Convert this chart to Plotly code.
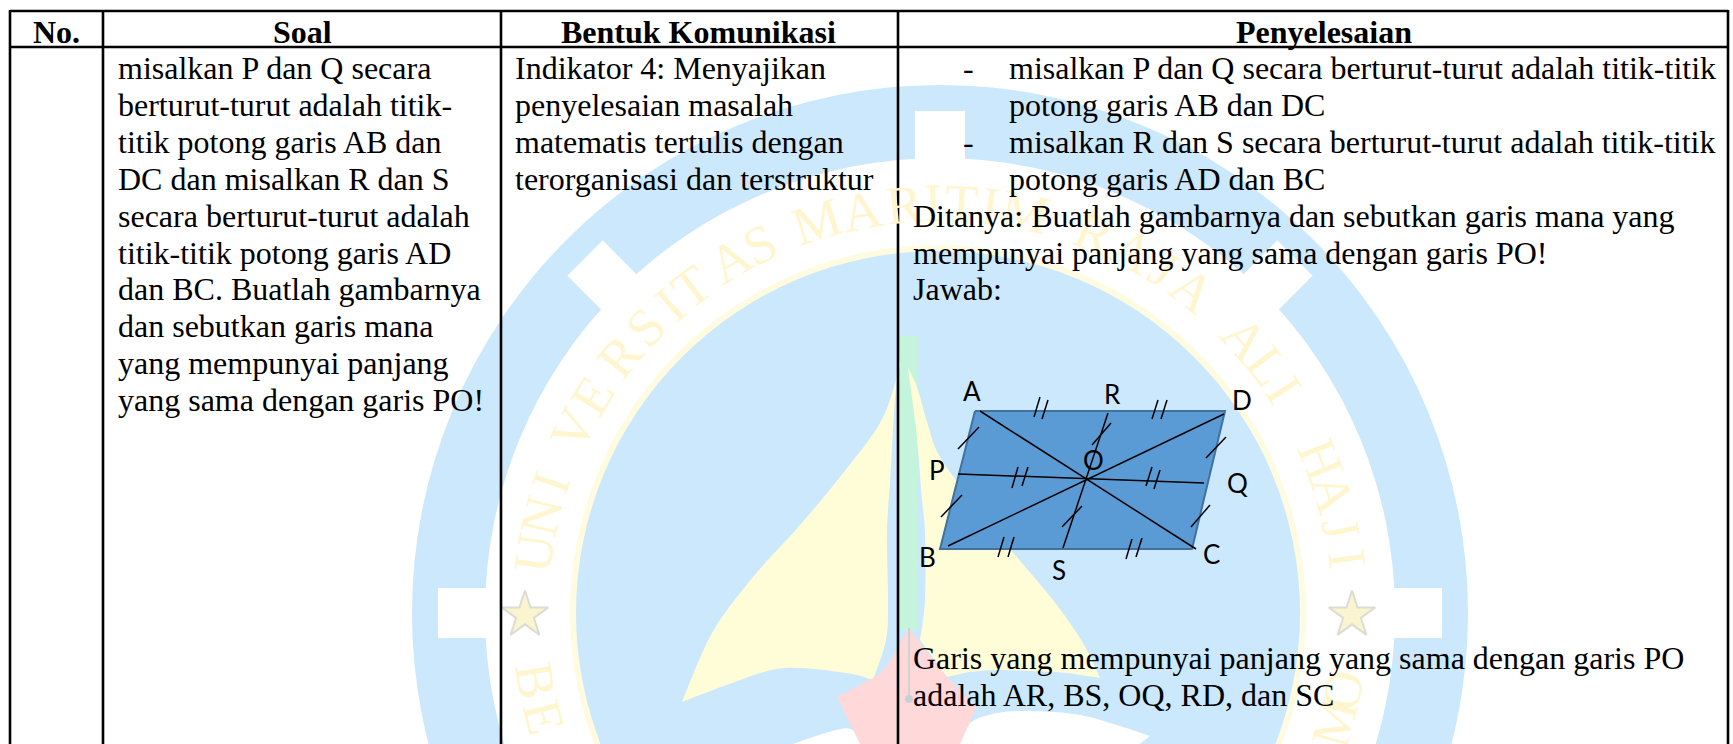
import math
import plotly.graph_objects as go

# ---- table contents
HEADERS = ["No.", "Soal", "Bentuk Komunikasi", "Penyelesaian"]
HEADER_X = [56, 302, 698, 1324]
SOAL_LINES = ["misalkan P dan Q secara", "berturut-turut adalah titik-", "titik potong garis AB dan",
              "DC dan misalkan R dan S", "secara berturut-turut adalah", "titik-titik potong garis AD",
              "dan BC. Buatlah gambarnya", "dan sebutkan garis mana", "yang mempunyai panjang",
              "yang sama dengan garis PO!"]
BENTUK_LINES = ["Indikator 4: Menyajikan", "penyelesaian masalah", "matematis tertulis dengan",
                "terorganisasi dan terstruktur"]
BULLET_LINES = ["misalkan P dan Q secara berturut-turut adalah titik-titik", "potong garis AB dan DC",
                "misalkan R dan S secara berturut-turut adalah titik-titik", "potong garis AD dan BC"]
PLAIN_LINES = ["Ditanya: Buatlah gambarnya dan sebutkan garis mana yang",
               "mempunyai panjang yang sama dengan garis PO!", "Jawab:"]
ANSWER_LINES = ["Garis yang mempunyai panjang yang sama dengan garis PO",
                "adalah AR, BS, OQ, RD, dan SC"]
LINE_Y0, LINE_STEP = 68, 36.9
COL_LINES_X = [10, 103, 501, 898, 1728]

# ---- figure: parallelogram
PARA_X = [975, 1225, 1192, 940, 975]
PARA_Y = [411, 411, 549, 549, 411]
SEGMENTS = [  # x0, y0, x1, y1
    (980, 411, 1196, 549), (948, 546, 1224, 414), (958, 474, 1204, 483), (1108, 413, 1063, 548),
    (1034, 417, 1040, 397), (1042, 419, 1048, 400), (1152, 419, 1158, 400), (1161, 419, 1167, 400),
    (998, 557, 1004, 537), (1008, 557, 1014, 537), (1126, 559, 1132, 539), (1136, 557, 1142, 538),
    (1012, 488, 1018, 467), (1022, 486, 1028, 467), (1146, 486, 1152, 467), (1154, 489, 1160, 470),
    (958, 449, 979, 427), (941, 517, 962, 495), (1206, 458, 1226, 437), (1191, 527, 1210, 505),
    (1092, 445, 1111, 423), (1062, 527, 1082, 506),
]
PT_NAMES = ["A", "R", "D", "O", "P", "Q", "B", "S", "C"]
PT_X = [972, 1112, 1242, 1093, 937, 1237, 927, 1059, 1211]
PT_Y = [391, 394, 400, 460, 470, 483, 557, 570, 554]

# ---- watermark (each shape is a list of smooth runs that meet at corners)
CX, CY = 938, 613
RING_CX = 940
R_OUTER, R_WHITE, R_RIM, R_DISC = 528, 455, 368, 362
TOOTH_ANGLES = [0, 45, 90, 135, 180]
LEFT_SAIL = [
    [(907, 337), (897, 377), (880, 423), (840, 477), (800, 525), (753, 577), (712, 633), (682, 702)],
    [(682, 702), (735, 682), (784, 668), (846, 673), (873, 680)],
    [(873, 680), (886, 640), (888, 600), (887, 533), (890, 483), (897, 377), (907, 337)],
]
RIGHT_SAIL = [
    [(908, 368), (917, 387), (928, 425), (940, 457), (975, 505), (1011, 550), (1053, 600), (1083, 643), (1100, 678)],
    [(1100, 678), (1067, 673), (1030, 671), (997, 670), (970, 672), (947, 677)],
    [(947, 677), (920, 640)],
    [(920, 640), (925, 600), (925, 533), (922, 500), (918, 450), (915, 420), (908, 368)],
]
MAST = [[(900, 336), (917, 336)], [(917, 336), (918, 630)], [(918, 630), (900, 630)], [(900, 630), (900, 336)]]
PINK = [[(909, 628), (885, 668), (869, 680), (837, 697)], [(837, 697), (860, 744)], [(860, 744), (960, 744)],
        [(960, 744), (977, 707)], [(977, 707), (947, 677), (920, 643), (909, 628)]]
CLOUD_R = [[(960, 744), (970, 723), (997, 713), (1030, 711), (1080, 715), (1123, 727), (1150, 736)],
           [(1150, 736), (1140, 744)], [(1140, 744), (960, 744)]]
CLOUD_L = [[(793, 744), (829, 732), (851, 729), (862, 744)], [(862, 744), (793, 744)]]
STARS_X = [525, 1352]
STARS_Y = [615, 615]
ARC_TOP = "UNIVERSITAS MARITIM RAJA ALI HAJI"
ARC_TOP_ANGLES = [8.4, 13.7, 18.6, 26.6, 32, 38.8, 44.2, 48.8, 52.7, 59.3, 63.9, 68, 72.5, 79, 85, 89, 93, 97,
                  102, 106, 112, 118, 123, 128, 133, 138, 143, 147, 152, 158, 163, 168, 172.5]
ARC_BOTTOM = "BEOM"
ARC_BOTTOM_ANGLES = [-9.4, -14.7, 190.8, 195.6]
R_TEXT = 410

BLUE, YELLOW, PALE = "#cbe8fd", "#fffdd8", "#fff6cf"

fig = go.Figure()
shapes = []


def run_path(run):
    # Catmull-Rom through the run's points, written as cubic Beziers
    out = ""
    n = len(run)
    for i in range(n - 1):
        p0 = run[max(i - 1, 0)]
        p1, p2 = run[i], run[i + 1]
        p3 = run[min(i + 2, n - 1)]
        c1 = (p1[0] + (p2[0] - p0[0]) / 6, p1[1] + (p2[1] - p0[1]) / 6)
        c2 = (p2[0] - (p3[0] - p1[0]) / 6, p2[1] - (p3[1] - p1[1]) / 6)
        out += f" C {c1[0]:.1f},{c1[1]:.1f} {c2[0]:.1f},{c2[1]:.1f} {p2[0]},{p2[1]}"
    return out


def smooth(runs, color):
    path = f"M {runs[0][0][0]},{runs[0][0][1]}" + "".join(run_path(r) for r in runs) + " Z"
    shapes.append(dict(type="path", path=path, fillcolor=color, line_width=0, layer="below"))


def poly(points, color):
    path = "M " + " L ".join(f"{x},{y}" for x, y in points) + " Z"
    shapes.append(dict(type="path", path=path, fillcolor=color, line_width=0, layer="below"))


def circle(cx, r, color):
    shapes.append(dict(type="circle", x0=cx - r, x1=cx + r, y0=CY - r, y1=CY + r,
                       fillcolor=color, line_width=0, layer="below"))


circle(RING_CX, R_OUTER, BLUE)
circle(RING_CX, R_WHITE, "#ffffff")
for a in TOOTH_ANGLES:
    t = math.radians(a)
    ux, uy = -math.cos(t), -math.sin(t)
    vx, vy = -uy, ux
    poly([(RING_CX + ux * r + vx * s * 25, CY + uy * r + vy * s * 25)
          for r, s in [(440, -1), (502, -1), (502, 1), (440, 1)]], "#ffffff")
circle(CX, R_RIM, "#fffbe0")
circle(CX, R_DISC, BLUE)
smooth(LEFT_SAIL, YELLOW)
smooth(MAST, "#c4f5dc")
smooth(RIGHT_SAIL, YELLOW)
smooth(CLOUD_R, "#ffffff")
smooth(CLOUD_L, "#ffffff")
smooth(PINK, "#ffd8da")

# grey pin
fig.add_trace(go.Scatter(x=[909, 909], y=[628, 699], mode="lines", line=dict(color="#d2d2d2", width=2)))
fig.add_trace(go.Scatter(x=[909], y=[699], mode="markers", marker=dict(color="#c8d0d4", size=8)))
# stars
fig.add_trace(go.Scatter(x=STARS_X, y=STARS_Y, mode="markers",
                         marker=dict(symbol="star", size=35, color="#fbf5cf",
                                     line=dict(color="#dcdcd4", width=2))))
# parallelogram
fig.add_trace(go.Scatter(x=PARA_X, y=PARA_Y, mode="lines", fill="toself", fillcolor="#5b9bd5",
                         line=dict(color="#41719c", width=2)))
sx, sy = [], []
for x0, y0, x1, y1 in SEGMENTS:
    sx += [x0, x1, None]
    sy += [y0, y1, None]
fig.add_trace(go.Scatter(x=sx, y=sy, mode="lines", line=dict(color="#000000", width=1.5)))

# table rules
rx, ry = [10, 1728, None, 10, 1728, None], [11, 11, None, 47, 47, None]
for x in COL_LINES_X:
    rx += [x, x, None]
    ry += [10, 744, None]
fig.add_trace(go.Scatter(x=rx, y=ry, mode="lines", line=dict(color="#000000", width=2.6)))

ann = []


def text(x, y, s, size=32, font="Liberation Serif", color="#000000", anchor="left", bold=False, angle=0):
    ann.append(dict(x=x, y=y, text=f"<b>{s}</b>" if bold else s, showarrow=False, xanchor=anchor, yanchor="middle",
                    textangle=angle, borderpad=0, borderwidth=0,
                    font=dict(family=font, size=size, color=color)))


for i, (ch, a) in enumerate(zip(ARC_TOP, ARC_TOP_ANGLES)):
    if ch == " ":
        continue
    t = math.radians(a)
    text(RING_CX - R_TEXT * math.cos(t), CY - R_TEXT * math.sin(t), ch, size=54, color=PALE, anchor="center", angle=a - 90)
for ch, a in zip(ARC_BOTTOM, ARC_BOTTOM_ANGLES):
    t = math.radians(a)
    text(RING_CX - R_TEXT * math.cos(t), CY - R_TEXT * math.sin(t), ch, size=54, color=PALE, anchor="center", angle=a + 90)

for s, x in zip(HEADERS, HEADER_X):
    text(x, 32, s, anchor="center", bold=True)
for i, s in enumerate(SOAL_LINES):
    text(118, LINE_Y0 + i * LINE_STEP, s)
for i, s in enumerate(BENTUK_LINES):
    text(515, LINE_Y0 + i * LINE_STEP, s)
for i, s in enumerate(BULLET_LINES):
    text(1009, LINE_Y0 + i * LINE_STEP, s)
    if i % 2 == 0:
        text(963, LINE_Y0 + i * LINE_STEP, "-")
for i, s in enumerate(PLAIN_LINES):
    text(913, LINE_Y0 + (i + 4) * LINE_STEP, s)
for i, s in enumerate(ANSWER_LINES):
    text(913, 658 + i * LINE_STEP, s)
for n, x, y in zip(PT_NAMES, PT_X, PT_Y):
    text(x, y, n, size=26, font="Lato", anchor="center")

fig.update_layout(
    width=1733, height=744, margin=dict(l=0, r=0, t=0, b=0), autosize=False,
    paper_bgcolor="#ffffff", plot_bgcolor="#ffffff", showlegend=False, hovermode=False,
    xaxis=dict(range=[0, 1733], visible=False, fixedrange=True),
    yaxis=dict(range=[744, 0], visible=False, fixedrange=True),
    shapes=shapes, annotations=ann,
)
fig.write_html("out.html", config=dict(displayModeBar=False),
               post_script="document.body.style.margin='0';document.body.style.overflow='hidden';")
